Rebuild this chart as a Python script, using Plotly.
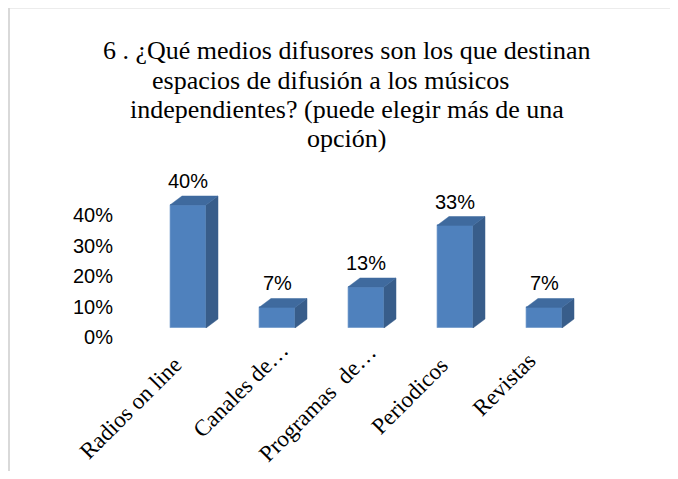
import plotly.graph_objects as go

# ---- data ----
categories = ["Radios on line", "Canales de…", "Programas\u00a0 de…", "Periodicos", "Revistas"]
values = [40.0, 6.67, 13.33, 33.33, 6.67]          # percent
value_labels = ["40%", "7%", "13%", "33%", "7%"]
y_tick_vals = [0, 10, 20, 30, 40]
y_tick_text = ["0%", "10%", "20%", "30%", "40%"]
title_lines = [
    "6 . ¿Qué medios difusores son los que destinan",
    "espacios de difusión a los músicos",
    "independientes? (puede elegir más de una",
    "opción)",
]

# ---- layout / style ----
OX, OY = 8, 8          # page body margin
W, H = 662, 463
FRONT = "#4F81BD"
SIDE = "#385D8A"
TOP = "#3F6A9E"
SERIF = "Liberation Serif, Times New Roman, serif"
SANS = "Liberation Sans, Arial, sans-serif"

px_per_cat = 89.0
px_per_pct = 3.075
bar_w = 36 / px_per_cat
dx = 12 / px_per_cat
dy = 9 / px_per_pct

# category label placement (pixel nudges relative to each category position)
lbl_xshift = [-58, -37, -49, -46, -40]
lbl_center_y = [408, 390, 403, 396, 384]

xs = list(range(len(categories)))

def px(xp):
    return (xp - OX) / W

def py(yp):
    return 1 - (yp - OY) / H

fig = go.Figure()

# front faces
fig.add_trace(go.Bar(
    x=xs, y=values, width=bar_w,
    marker=dict(color=FRONT, line=dict(color="rgba(130,165,210,0.7)", width=1)),
    hoverinfo="skip", showlegend=False,
))

# side faces
sx, sy = [], []
for i, v in zip(xs, values):
    r = i + bar_w / 2
    sx += [r, r + dx, r + dx, r, r, None]
    sy += [0, dy, v + dy, v, 0, None]
fig.add_trace(go.Scatter(x=sx, y=sy, fill="toself", fillcolor=SIDE, mode="lines",
                         line=dict(color=SIDE, width=0.5), hoverinfo="skip", showlegend=False))

# top faces
tx, ty = [], []
for i, v in zip(xs, values):
    l = i - bar_w / 2
    r = i + bar_w / 2
    tx += [l, r, r + dx, l + dx, l, None]
    ty += [v, v, v + dy, v + dy, v, None]
fig.add_trace(go.Scatter(x=tx, y=ty, fill="toself", fillcolor=TOP, mode="lines",
                         line=dict(color=TOP, width=0.5), hoverinfo="skip", showlegend=False))

# invisible trace to activate the value-label axis
fig.add_trace(go.Scatter(x=[0], y=[0], yaxis="y2", mode="markers",
                         marker=dict(opacity=0), hoverinfo="skip", showlegend=False))

# data labels
for i, v, t in zip(xs, values, value_labels):
    fig.add_annotation(x=i, y=v, text=t, showarrow=False, yshift=24,
                       xanchor="center", yanchor="middle",
                       font=dict(family=SANS, size=20, color="#000000"))

# category labels (rotated)
for i, c, sh, cy in zip(xs, categories, lbl_xshift, lbl_center_y):
    fig.add_annotation(x=i, xref="x", y=py(cy), yref="paper", text=c,
                       showarrow=False, textangle=-45, xshift=sh,
                       xanchor="center", yanchor="middle",
                       font=dict(family=SERIF, size=23, color="#000000"))

# title lines
title_centers = [346, 330, 347, 346]
title_y = [51, 80, 109, 138]
for txt, cx, cy in zip(title_lines, title_centers, title_y):
    fig.add_annotation(xref="paper", yref="paper", x=px(cx), y=py(cy), text=txt,
                       showarrow=False, xanchor="center", yanchor="middle",
                       font=dict(family=SERIF, size=26, color="#000000"))

# chart border
fig.add_shape(type="rect", xref="paper", yref="paper",
              x0=px(9), x1=1.05, y0=-0.05, y1=py(7.5),
              line=dict(color="#D9D9D9", width=2), fillcolor="rgba(0,0,0,0)", layer="below")

x_left = 188 - 0.5 * px_per_cat
x_right = 544 + 0.5 * px_per_cat
ymax = 50
fig.update_layout(
    width=W, height=H, autosize=False,
    margin=dict(l=0, r=0, t=0, b=0, autoexpand=False),
    paper_bgcolor="white", plot_bgcolor="rgba(0,0,0,0)",
    xaxis=dict(domain=[px(x_left), px(x_right)], range=[-0.5, 4.5],
               tickvals=xs, ticktext=categories, showticklabels=False, ticks="",
               showgrid=False, zeroline=False, showline=False, automargin=False),
    yaxis=dict(domain=[py(328), py(328 - ymax * px_per_pct)], range=[0, ymax],
               showticklabels=False, showgrid=False, zeroline=False, showline=False,
               ticks="", automargin=False),
    yaxis2=dict(domain=[py(337), py(337 - ymax * 3.05)], range=[0, ymax],
                anchor="free", position=px(113), side="left",
                tickvals=y_tick_vals, ticktext=y_tick_text, ticks="",
                tickfont=dict(family=SANS, size=20, color="#000000"),
                showgrid=False, zeroline=False, showline=False, automargin=False),
    bargap=0,
)

fig.write_html("out.html")
